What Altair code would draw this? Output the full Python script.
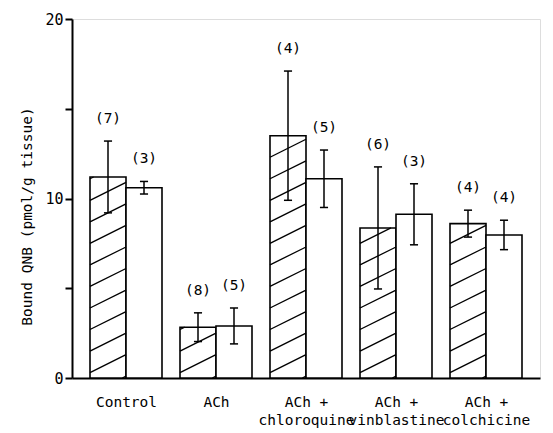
import altair as alt
import pandas as pd

# ---- data ----
groups = ["Control", "ACh", "ACh + chloroquine", "ACh + vinblastine", "ACh + colchicine"]
hatched_mean = [11.2, 2.83, 13.5, 8.36, 8.6]
hatched_err = [2.0, 0.8, 3.6, 3.4, 0.75]
hatched_n = [7, 8, 4, 6, 4]
white_mean = [10.6, 2.9, 11.1, 9.12, 7.97]
white_err = [0.35, 1.0, 1.6, 1.7, 0.82]
white_n = [3, 5, 5, 3, 4]

BAR_W = 0.4      # bar width in group units
CAP = 0.045      # half width of error caps
HATCH_STEP = 1.2
HATCH_RISE = 1.0
HATCH_PHASE = 0.3

rows = []
for i, g in enumerate(groups):
    for kind, m, e, n, left in [
        ("hatched", hatched_mean[i], hatched_err[i], hatched_n[i], i - BAR_W),
        ("white", white_mean[i], white_err[i], white_n[i], i),
    ]:
        c = left + BAR_W / 2
        rows.append(dict(group=g, kind=kind, mean=m, lo=m - e, hi=m + e,
                         label=f"({n})", left=left, right=left + BAR_W,
                         center=c, cl=c - CAP, cr=c + CAP, zero=0))
df = pd.DataFrame(rows)

# hatch segments (diagonal lines clipped to the hatched bars)
hrows = []
for i in range(len(groups)):
    v = hatched_mean[i]
    xl = i - BAR_W
    k = -2
    while True:
        yl = HATCH_PHASE + k * HATCH_STEP
        if yl > v:
            break
        t0 = max(0.0, -yl / HATCH_RISE)
        t1 = min(1.0, (v - yl) / HATCH_RISE)
        if t1 > t0 + 0.02:
            hrows.append(dict(x1=xl + BAR_W * t0, y1=yl + HATCH_RISE * t0,
                              x2=xl + BAR_W * t1, y2=yl + HATCH_RISE * t1))
        k += 1
hdf = pd.DataFrame(hrows)

FONT = "DejaVu Sans Mono"
xscale = alt.Scale(domain=[-0.6, 4.6], nice=False, zero=False)
yscale = alt.Scale(domain=[0, 20], nice=False)

label_expr = ("['Control','ACh',['ACh +','chloroquine'],['ACh +','vinblastine'],"
              "['ACh +','colchicine']][datum.value]")

xaxis = alt.Axis(values=[0, 1, 2, 3, 4], labelExpr=label_expr, ticks=False, grid=False,
                 title=None, domainColor="black", domainWidth=2, labelFont=FONT,
                 labelFontSize=14.5, labelColor="black", labelPadding=17,
                 labelLineHeight=18, labelBaseline="top", labelOverlap=False,
                 labelBound=False, labelFlush=False)
yaxis = alt.Axis(values=[0, 5, 10, 15, 20],
                 labelExpr="datum.value % 10 == 0 ? datum.label : ''",
                 grid=False, tickSize=7, tickColor="black", tickWidth=2,
                 domainColor="black", domainWidth=2, labelFont=FONT, labelFontSize=15,
                 labelColor="black", labelPadding=2,
                 title="Bound QNB (pmol/g tissue)", titleFont=FONT, titleFontSize=14.5,
                 titleFontWeight="normal", titleColor="black",
                 titleX=-38, titleY=197, titleAngle=270, titleAlign="center",
                 titleBaseline="bottom")

base = alt.Chart(df)

bars = base.mark_rect(fill="white", stroke="black", strokeWidth=1.6).encode(
    x=alt.X("left:Q", scale=xscale, axis=xaxis),
    x2="right:Q",
    y=alt.Y("mean:Q", scale=yscale, axis=yaxis),
    y2="zero:Q",
)

hatch = alt.Chart(hdf).mark_rule(color="black", strokeWidth=1.3).encode(
    x=alt.X("x1:Q", scale=xscale), x2="x2:Q",
    y=alt.Y("y1:Q", scale=yscale), y2="y2:Q",
)

err = base.mark_rule(color="black", strokeWidth=1.5).encode(
    x="center:Q", y="lo:Q", y2="hi:Q")
cap_hi = base.mark_rule(color="black", strokeWidth=1.5).encode(
    x="cl:Q", x2="cr:Q", y="hi:Q")
cap_lo = base.mark_rule(color="black", strokeWidth=1.5).encode(
    x="cl:Q", x2="cr:Q", y="lo:Q")

labels = base.mark_text(font=FONT, fontSize=14.5, color="black", dy=-22,
                        baseline="middle").encode(
    x="center:Q", y="hi:Q", text="label:N")

chart = alt.layer(bars, hatch, err, cap_hi, cap_lo, labels).properties(
    width=468, height=359,
    autosize=alt.AutoSizeParams(type="none"),
    padding={"left": 64, "top": 11, "right": 5, "bottom": 55},
).configure_view(stroke=None).configure(background="white")

chart.save("out.html", embed_options={"renderer": "svg", "actions": False})
